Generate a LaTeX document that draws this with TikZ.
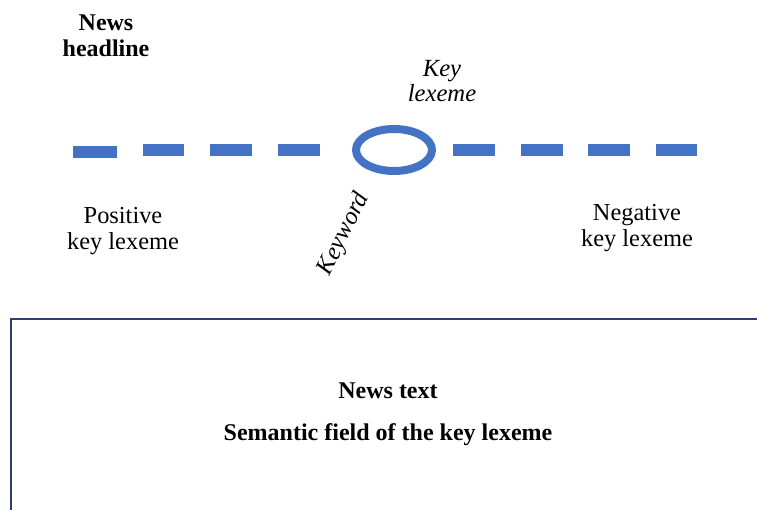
\documentclass[tikz,border=0pt]{standalone}
\usepackage{fontspec}
\setmainfont{Liberation Serif}
\usetikzlibrary{shapes.geometric}
\definecolor{dashblue}{HTML}{4472C4}
\definecolor{boxnavy}{HTML}{2F3E6E}
\begin{document}
\begin{tikzpicture}[x=0.75pt,y=-0.75pt,
  lbl/.style={align=center,font=\fontsize{18.3}{19}\selectfont,inner sep=0pt},
  bold/.style={lbl,font=\fontsize{18}{19.5}\selectfont\bfseries},
  ital/.style={lbl,font=\fontsize{18.5}{19}\selectfont\itshape},
  dashseg/.style={draw=dashblue,line width=9pt},
]
\useasboundingbox (0,0) rectangle (757,510);
\clip (0,0) rectangle (757,510);
% dashed line
\draw[dashseg] (73,152) -- (117,152);
\draw[dashseg] (143,150) -- (184,150);
\draw[dashseg] (210,150) -- (252,150);
\draw[dashseg] (278,150) -- (320,150);
\draw[dashseg] (453,150) -- (495,150);
\draw[dashseg] (521,150) -- (563,150);
\draw[dashseg] (588,150) -- (630,150);
\draw[dashseg] (656,150) -- (697,150);
% key ellipse
\node[draw=dashblue,line width=6pt,ellipse,minimum width=57pt,minimum height=31.5pt,inner sep=0pt] (key) at (394,150) {};
% labels
\node[bold] (headline) at (106,36) {News\\headline};
\node[ital] (keylex) at (442,81) {Key\\lexeme};
\node[lbl] (pos) at (123,231) {Positive\\key lexeme};
\node[lbl] (neg) at (637,228) {Negative\\key lexeme};
\node[ital,rotate=64] (kw) at (344,234) {Keyword};
% box
\draw[boxnavy,line width=1.5pt] (11,530) -- (11,319) -- (770,319);
\node[bold] (newstext) at (388,391) {News text};
\node[bold] (field) at (388,435) {Semantic field of the key lexeme};
\end{tikzpicture}
\end{document}
